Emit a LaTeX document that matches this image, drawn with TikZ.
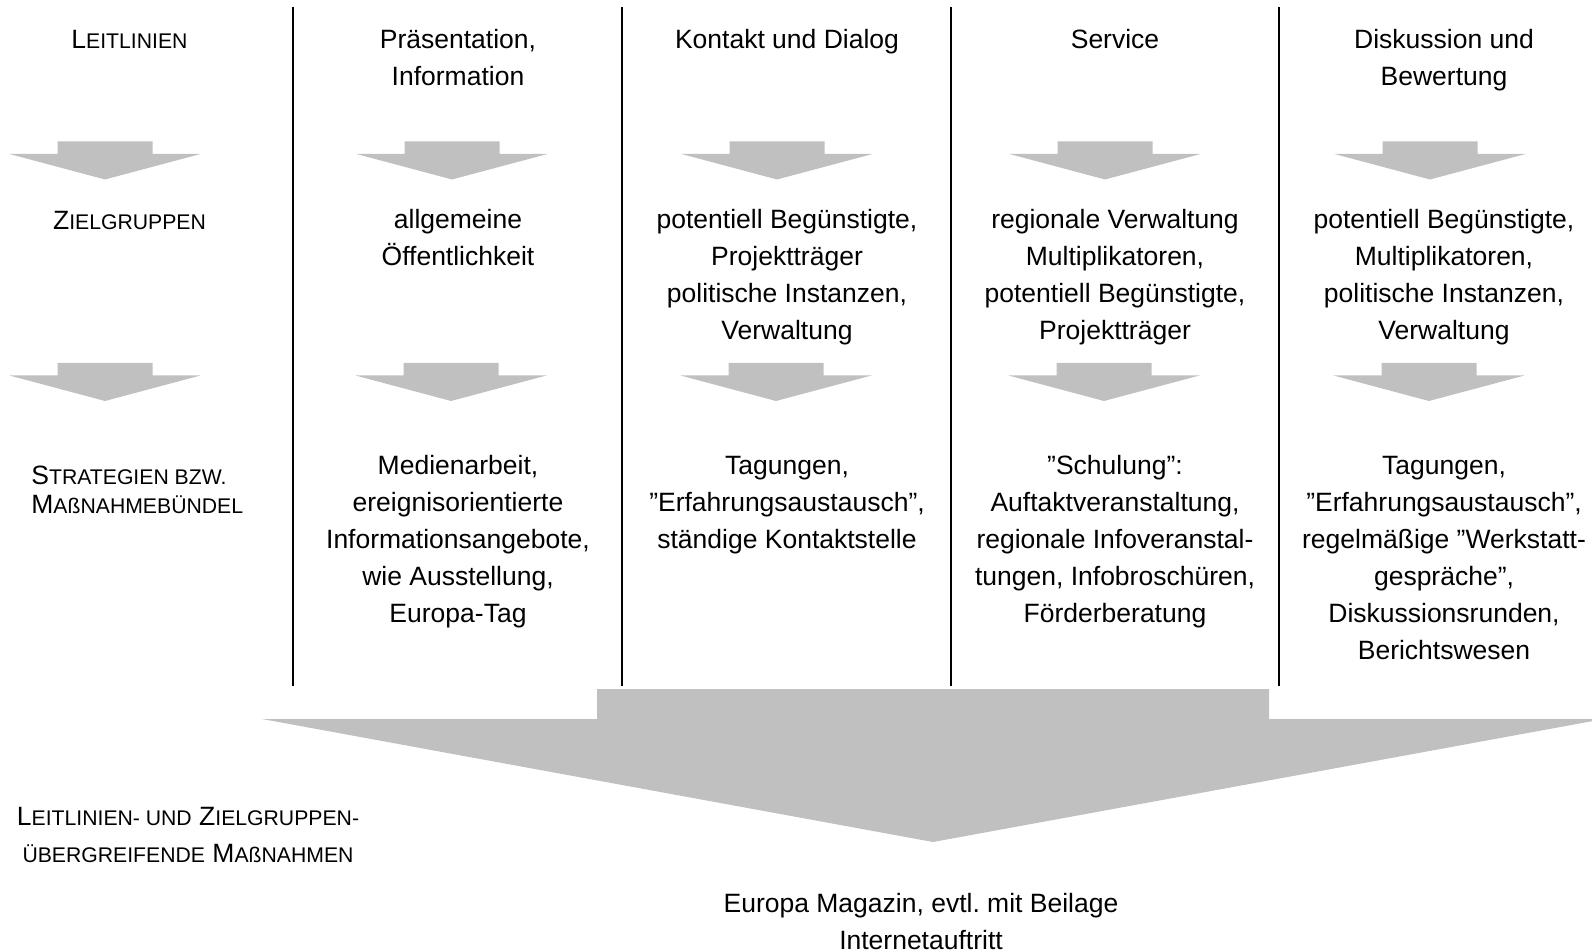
\documentclass[tikz,border=0pt]{standalone}
\usepackage{fontspec}
\setmainfont{Liberation Sans}
\frenchspacing
\definecolor{arrowgray}{RGB}{192,192,192}
\newcommand\kap[1]{{\fontsize{10.6pt}{18.5pt}\selectfont #1}}
\newcommand\kapn[1]{{\fontsize{10.6pt}{14.25pt}\selectfont #1}}
\tikzset{
  txt/.style={inner sep=0pt, anchor=base, align=center, font=\fontsize{13.25pt}{18.5pt}\selectfont},
  txtl/.style={inner sep=0pt, align=left, anchor=base west, font=\fontsize{13.25pt}{14.25pt}\selectfont},
  sepline/.style={line width=1pt, black},
  smallarrow/.pic={\fill[arrowgray] (-47.5,0) -- (47.5,0) -- (47.5,12.5) -- (95.5,12.5) -- (0,38) -- (-95.5,12.5) -- (-47.5,12.5) -- cycle;}
}
\begin{document}
\begin{tikzpicture}[x=0.5pt, y=-0.5pt]
\useasboundingbox (0,0) rectangle (1592,952);
\begin{scope}
\clip (0,0) rectangle (1592,952);
% big arrow
\fill[arrowgray] (597,689) -- (1269,689) -- (1269,719) -- (1604,719) -- (933,842) -- (262,719) -- (597,719) -- cycle;
\end{scope}
% separators
\foreach \xx in {293,622,951,1279} \draw[sepline] (\xx,7) -- (\xx,686);
% small arrows
\foreach \xx/\yy in {105/141.5,452/141.5,777/141.5,1105/141.5,1430/141.5,105/363,451/363,776/363,1104/363,1429/363}
  \pic at (\xx,\yy) {smallarrow};
% column 1 (anchor = baseline of the last line)
\node[txt] (l1) at (129.5,49) {L\kap{EITLINIEN}};
\node[txt] (l2) at (129.5,229.5) {Z\kap{IELGRUPPEN}};
\node[txtl] (l3) at (31,513.5) {S\kapn{TRATEGIEN BZW.}\\M\kapn{AßNAHMEBÜNDEL}};
% column 2
\node[txt] (a1) at (458,86) {Präsentation,\\Information};
\node[txt] (a2) at (458,266) {allgemeine\\Öffentlichkeit};
\node[txt] (a3) at (458,622.5) {Medienarbeit,\\ereignisorientierte\\Informationsangebote,\\wie Ausstellung,\\Europa-Tag};
% column 3
\node[txt] (b1) at (787,49) {Kontakt und Dialog};
\node[txt] (b2) at (787,340) {potentiell Begünstigte,\\Projektträger\\politische Instanzen,\\Verwaltung};
\node[txt] (b3) at (787,548.5) {Tagungen,\\”Erfahrungsaustausch”,\\ständige Kontaktstelle};
% column 4
\node[txt] (c1) at (1115,49) {Service};
\node[txt] (c2) at (1115,340) {regionale Verwaltung\\Multiplikatoren,\\potentiell Begünstigte,\\Projektträger};
\node[txt] (c3) at (1115,622.5) {”Schulung”:\\Auftaktveranstaltung,\\regionale Infoveranstal-\\tungen, Infobroschüren,\\Förderberatung};
% column 5
\node[txt] (d1) at (1444,86) {Diskussion und\\Bewertung};
\node[txt] (d2) at (1444,340) {potentiell Begünstigte,\\Multiplikatoren,\\politische Instanzen,\\Verwaltung};
\node[txt] (d3) at (1444,659.5) {Tagungen,\\”Erfahrungsaustausch”,\\regelmäßige ”Werkstatt-\\gespräche”,\\Diskussionsrunden,\\Berichtswesen};
% bottom
\node[txt] (ue) at (188,862) {L\kap{EITLINIEN- UND} Z\kap{IELGRUPPEN-}\\\kap{ÜBERGREIFENDE} M\kap{AßNAHMEN}};
\node[txt] (em) at (921,949) {Europa Magazin, evtl. mit Beilage\\Internetauftritt};
\end{tikzpicture}
\end{document}
